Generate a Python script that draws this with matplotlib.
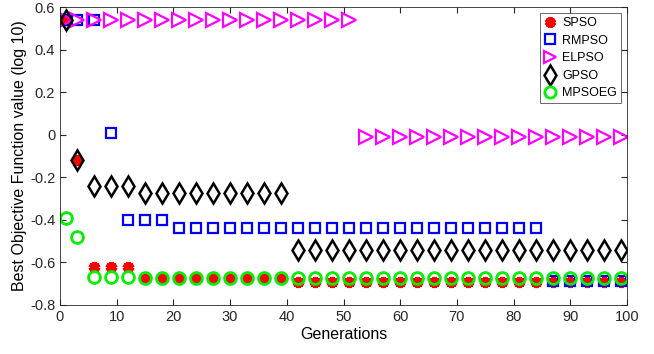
import numpy as np
import matplotlib.pyplot as plt

# generations where markers are shown
gens = [1, 3] + list(range(6, 100, 3))

spso = [0.54, -0.12, -0.62, -0.62, -0.62] + [-0.68] * 9 + [-0.69] * 20
rmpso = [0.54, 0.54, 0.54, 0.01, -0.40, -0.40, -0.40] + [-0.44] * 22 + [-0.685] * 5
elpso = [0.54] * 18 + [-0.01] * 16
gpso = [0.54, -0.12, -0.24, -0.24, -0.24] + [-0.275] * 9 + [-0.54] * 20
mpsoeg = [-0.39, -0.48, -0.67, -0.67, -0.67] + [-0.675] * 29

names = ["SPSO", "RMPSO", "ELPSO", "GPSO", "MPSOEG"]

plt.rcParams['font.family'] = ['Liberation Sans', 'DejaVu Sans']
fig = plt.figure(figsize=(6.54, 3.54), dpi=100)
ax = fig.add_axes([60 / 654, 1 - 305 / 354, 567 / 654, 298 / 354])

ax.plot(gens, spso, ls='none', marker=(6, 2, 0), ms=8, mew=3, color='red', label=names[0])
ax.plot(gens, rmpso, ls='none', marker='s', ms=7.5, mew=1.6, mfc='none', color='#0000ff', label=names[1])
ax.plot(gens, elpso, ls='none', marker='>', ms=9.5, mew=1.6, mfc='none', color='#ff00ff', label=names[2])
ax.plot(gens, gpso, ls='none', marker='d', ms=10.5, mew=1.8, mfc='none', color='black', label=names[3])
ax.plot(gens, mpsoeg, ls='none', marker='o', ms=8.5, mew=2, mfc='none', color='#00ee00', label=names[4])

ax.set_xlim(0, 100)
ax.set_ylim(-0.8, 0.6)
ax.set_xticks(range(0, 101, 10))
ax.set_yticks(np.arange(-0.8, 0.61, 0.2))
ax.set_yticklabels(["-0.8", "-0.6", "-0.4", "-0.2", "0", "0.2", "0.4", "0.6"])
ax.tick_params(direction='in', top=True, right=True, labelsize=10.5, colors='#262626', length=4)
for s in ax.spines.values():
    s.set_color('#262626')
    s.set_linewidth(0.6)
ax.set_xlabel("Generations", fontsize=11.5, labelpad=2)
ax.set_ylabel("Best Objective Function value (log 10)", fontsize=11.5, labelpad=2)

leg = ax.legend(loc='upper right', fontsize=9, frameon=True, fancybox=False,
                edgecolor='#262626', handlelength=1.0, handletextpad=0.5,
                borderpad=0.3, labelspacing=0.45, markerscale=0.95)
leg.get_frame().set_linewidth(0.6)

fig.savefig("out.png", dpi=100)
